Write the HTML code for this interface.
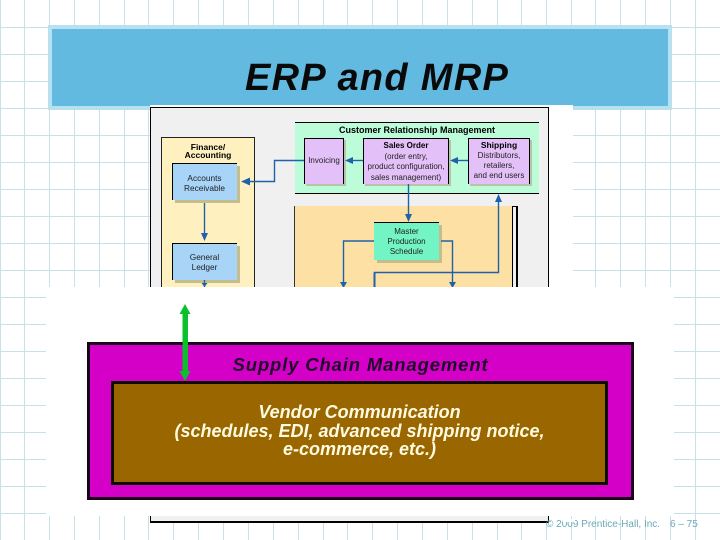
<!DOCTYPE html>
<html>
<head>
<meta charset="utf-8">
<style>
html,body{margin:0;padding:0;background:#fff;}
#s{position:relative;width:720px;height:540px;overflow:hidden;background:#fff;font-family:"Liberation Sans",sans-serif;}
#s div{position:absolute;box-sizing:border-box;}
.t{text-align:center;color:#222;font-size:8px;line-height:10px;}
.b{color:#000;font-weight:bold;}
</style>
</head>
<body>
<div id="s">
<svg style="position:absolute;left:0;top:0" width="720" height="540" id="grid">
<g stroke="#c9e0e8" stroke-width="1">
<path d="M0.5 0V540M24.5 0V540M49.5 0V540M74.5 0V540M99.5 0V540M124.5 0V540M148.5 0V540M173.5 0V540M198.5 0V540M223.5 0V540M248.5 0V540M273.5 0V540M298.5 0V540M323.5 0V540M347.5 0V540M372.5 0V540M397.5 0V540M422.5 0V540M447.5 0V540M472.5 0V540M497.5 0V540M521.5 0V540M546.5 0V540M571.5 0V540M595.5 0V540M620.5 0V540M645.5 0V540M670.5 0V540M695.5 0V540"/>
<path d="M0 27.5H720M0 54.5H720M0 81.5H720M0 108.5H720M0 135.5H720M0 162.5H720M0 189.5H720M0 216.5H720M0 243.5H720M0 270.5H720M0 297.5H720M0 324.5H720M0 351.5H720M0 378.5H720M0 405.5H720M0 432.5H720M0 459.5H720M0 486.5H720M0 513.5H720"/>
</g>
</svg>

<!-- title band -->
<div style="left:48px;top:25px;width:624px;height:85px;background:#62bae0;border:4px solid #b8e0ee;"></div>
<div style="left:245px;top:57px;font-size:38px;line-height:42px;letter-spacing:1.3px;font-weight:bold;font-style:italic;color:#0a0a0a;white-space:nowrap;">ERP and MRP</div>

<!-- white overlay behind the figure -->
<div style="left:150px;top:105px;width:423px;height:182px;background:#fff;"></div>
<div style="left:150px;top:107px;width:399px;height:416px;background:#f0f0f0;border:1px solid #000;border-bottom:2px solid #000;"></div>

<!-- finance column -->
<div style="left:161px;top:137px;width:94px;height:160px;background:#fff0c0;border:1px solid #222;"></div>
<div class="t b" style="left:161px;top:143px;width:94px;line-height:8px;font-size:8.5px;">Finance/<br>Accounting</div>
<div style="left:175px;top:166px;width:65px;height:37px;background:#c4bd8e;"></div>
<div style="left:172px;top:163px;width:65px;height:37px;background:#a8d4f8;border-top:1px solid #000;border-left:1px solid #000;"></div>
<div class="t" style="left:172px;top:173px;width:65px;font-size:8.3px;">Accounts<br>Receivable</div>
<div style="left:175px;top:246px;width:65px;height:37px;background:#c4bd8e;"></div>
<div style="left:172px;top:243px;width:65px;height:37px;background:#a8d4f8;border-top:1px solid #000;border-left:1px solid #000;"></div>
<div class="t" style="left:172px;top:252px;width:65px;font-size:8.3px;">General<br>Ledger</div>

<!-- CRM band -->
<div style="left:295px;top:122px;width:244px;height:72px;background:#bcfcd8;border-top:1px solid #000;border-bottom:1px solid #000;"></div>
<div class="t b" style="left:295px;top:125px;width:244px;font-size:9px;">Customer Relationship Management</div>
<div style="left:306px;top:140px;width:40px;height:46px;background:#b8c4a8;"></div>
<div style="left:304px;top:138px;width:40px;height:46px;background:#e4c0f8;border:1px solid #000;border-bottom:0;"></div>
<div class="t" style="left:304px;top:156px;width:40px;">Invoicing</div>
<div style="left:365px;top:140px;width:86px;height:46px;background:#b8c4a8;"></div>
<div style="left:363px;top:138px;width:86px;height:46px;background:#e4c0f8;border:1px solid #000;border-bottom:0;"></div>
<div class="t" style="left:363px;top:141px;width:86px;line-height:10.5px;"><span class="b">Sales Order</span><br>(order entry,<br>product configuration,<br>sales management)</div>
<div style="left:470px;top:140px;width:62px;height:46px;background:#b8c4a8;"></div>
<div style="left:468px;top:138px;width:62px;height:46px;background:#e4c0f8;border:1px solid #000;border-bottom:0;"></div>
<div class="t" style="left:468px;top:140px;width:62px;"><span class="b" style="font-size:8.5px;">Shipping</span><br>Distributors,<br>retailers,<br>and end users</div>

<!-- production -->
<div style="left:294px;top:206px;width:218px;height:90px;background:#fde0a4;border-left:1px solid #333;"></div>
<div style="left:512px;top:206px;width:6px;height:90px;background:#f0f0f0;border-left:1px solid #000;border-right:2px solid #000;border-top:1px solid #000;"></div>
<div style="left:377px;top:225px;width:65px;height:38px;background:#c4bd8e;"></div>
<div style="left:374px;top:222px;width:65px;height:38px;background:#72f4c4;border-top:1px solid #000;"></div>
<div class="t" style="left:374px;top:227px;width:65px;">Master<br>Production<br>Schedule</div>

<!-- connectors -->
<svg style="position:absolute;left:0;top:0" width="720" height="540">
<g fill="none" stroke="#1f62ab" stroke-width="1.4">
<path d="M304 160.500H274.500V181.500H246"/>
<path d="M363 160.500H350"/>
<path d="M468 160.500H455"/>
<path d="M204.500 203V236"/>
<path d="M204.500 280V287"/>
<path d="M408.500 184V216"/>
<path d="M374 241H343.500V284"/>
<path d="M441 241H452.500V284"/>
<path d="M374.500 292V272.500H498.500V198"/>
</g>
<g fill="#1f62ab">
<path d="M241 181.500L250 177.500V185.500Z"/>
<path d="M345 160.500L353 157V164Z"/>
<path d="M450 160.500L458 157V164Z"/>
<path d="M204.500 241L201 233H208Z"/>
<path d="M408.500 222L405 214H412Z"/>
<path d="M343.500 288L340 282H347Z"/>
<path d="M452.500 288L449 282H456Z"/>
<path d="M498.500 194L495 202H502Z"/>
<path d="M204.500 287L201.500 283H207.500Z"/>
</g>
<path d="M374.500 272.500V292" stroke="#1f62ab" stroke-width="2" fill="none"/>
</svg>

<!-- white overlay panel -->
<div style="left:46px;top:287px;width:628px;height:229px;background:#fff;"></div>

<!-- supply chain -->
<div style="left:87px;top:354px;width:547px;height:0;"></div>
<div style="left:87px;top:342px;width:547px;height:158px;background:#d400c8;border:3px solid #1a0018;"></div>
<div style="left:111px;top:381px;width:497px;height:104px;background:#996600;border:3px solid #0d0a00;"></div>
<div style="left:87px;top:354px;width:547px;text-align:center;font-size:18.5px;line-height:22px;letter-spacing:0.85px;font-weight:bold;font-style:italic;color:#20052a;white-space:nowrap;">Supply Chain Management</div>
<div style="left:111px;top:403px;width:497px;text-align:center;font-size:18px;line-height:18.500px;font-weight:bold;font-style:italic;color:#fffbe0;white-space:nowrap;">Vendor Communication<br>(schedules, EDI, advanced shipping notice,<br>e-commerce, etc.)</div>

<!-- green arrow -->
<svg style="position:absolute;left:0;top:0" width="720" height="540">
<rect x="182.500" y="312" width="5.500" height="62" fill="#0cc02c"/>
<path d="M185 304L190.500 314H179.500Z" fill="#0cc02c"/>
<path d="M185 381L190.500 371H179.500Z" fill="#0cc02c"/>
</svg>

<!-- footer -->
<div style="left:546px;top:519px;font-size:10px;line-height:12px;color:#6aa8b8;white-space:nowrap;">© 2009 Prentice-Hall, Inc.</div>
<div style="left:670px;top:519px;font-size:10px;line-height:12px;color:#6aa8b8;white-space:nowrap;">6 – 75</div>
<div style="left:563px;top:519px;width:12px;height:3px;background:#fff;"></div>
</div>
</body>
</html>
